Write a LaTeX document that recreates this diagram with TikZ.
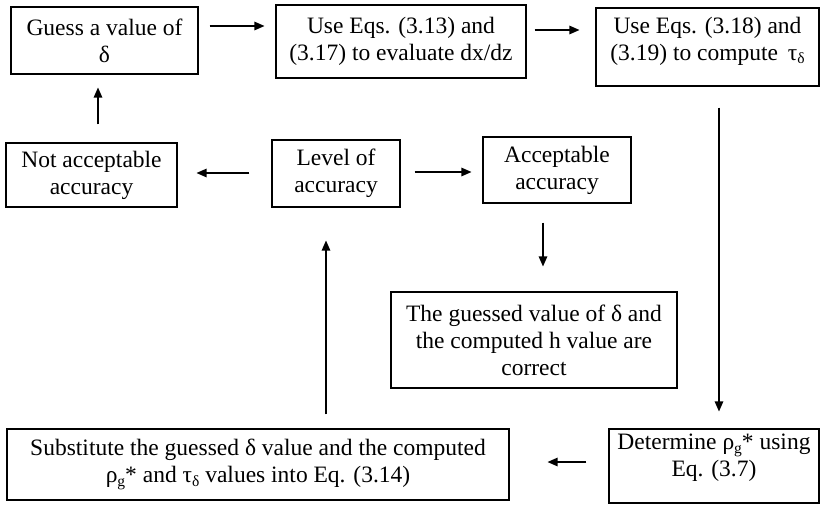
\documentclass[tikz,border=0pt]{standalone}
\usepackage{fontspec}
\setmainfont{Liberation Serif}
\usetikzlibrary{arrows.meta}
\newcommand{\mysub}[1]{\raisebox{-0.35ex}{\fontsize{15.5}{15.5}\selectfont #1}}
\begin{document}
\begin{tikzpicture}[x=1pt,y=-1pt,
  frame/.style={draw, line width=1.1pt, inner sep=0pt},
  box/.style={frame, align=center, font=\fontsize{23.5}{27}\selectfont},
  txt/.style={inner sep=0pt, align=center, font=\fontsize{23.5}{27}\selectfont},
  arr/.style={-{Triangle[length=10pt,width=8.5pt]}, line width=1.2pt}]
\useasboundingbox (0,0) rectangle (825,507);
\fill[white] (0,0) rectangle (825,507);
% boxes
\node[box, minimum width=187, minimum height=67] (b1) at (104.5,40.5) {Guess a value of\\δ};
\node[box, minimum width=250, minimum height=73] (b2) at (401,41.5) {Use Eqs. (3.13) and\\(3.17) to evaluate dx/dz};
\node[frame, minimum width=223, minimum height=78] (b3) at (707.5,47) {};
\node[txt] (b3t) at (707.5,41) {Use Eqs. (3.18) and\\(3.19) to compute\, τ\mysub{δ}};
\node[box, minimum width=171, minimum height=64] (b4) at (91.5,175) {Not acceptable\\accuracy};
\node[box, minimum width=128, minimum height=67] (b5) at (336,173.5) {Level of\\accuracy};
\node[box, minimum width=148, minimum height=66] (b6) at (557,170) {Acceptable\\accuracy};
\node[box, minimum width=286, minimum height=96] (b7) at (534,340) {The guessed value of δ and\\the computed h value are\\correct};
\node[box, minimum width=502, minimum height=71] (b8) at (258,464.5) {Substitute the guessed δ value and the computed\\ρ\mysub{g}* and τ\mysub{δ} values into Eq. (3.14)};
\node[frame, minimum width=210, minimum height=74] (b9) at (714,466) {};
\node[txt] (b9t) at (714,458) {Determine ρ\mysub{g}* using\\Eq. (3.7)};
% connectors
\draw[arr, shorten <=11pt, shorten >=11pt] (b1.east |- 0,26) -- (b2.west |- 0,26);
\draw[arr, shorten <=8pt, shorten >=16pt] (b2.east |- 0,30) -- (b3.west |- 0,30);
\draw[arr, shorten <=21pt, shorten >=17pt] (b3.south -| 719,0) -- (b9.north -| 719,0);
\draw[arr, shorten <=22pt, shorten >=38pt] (b9.west |- 0,462) -- (b8.east |- 0,462);
\draw[arr, shorten <=14pt, shorten >=33pt] (b8.north -| 326,0) -- (b5.south -| 326,0);
\draw[arr, shorten <=22pt, shorten >=19pt] (b5.west |- 0,173) -- (b4.east |- 0,173);
\draw[arr, shorten <=14pt, shorten >=11pt] (b5.east |- 0,172) -- (b6.west |- 0,172);
\draw[arr, shorten <=19pt, shorten >=25pt] (b6.south -| 543,0) -- (b7.north -| 543,0);
\draw[arr, shorten <=18pt, shorten >=13pt] (b4.north -| 98,0) -- (b1.south -| 98,0);
\end{tikzpicture}
\end{document}
